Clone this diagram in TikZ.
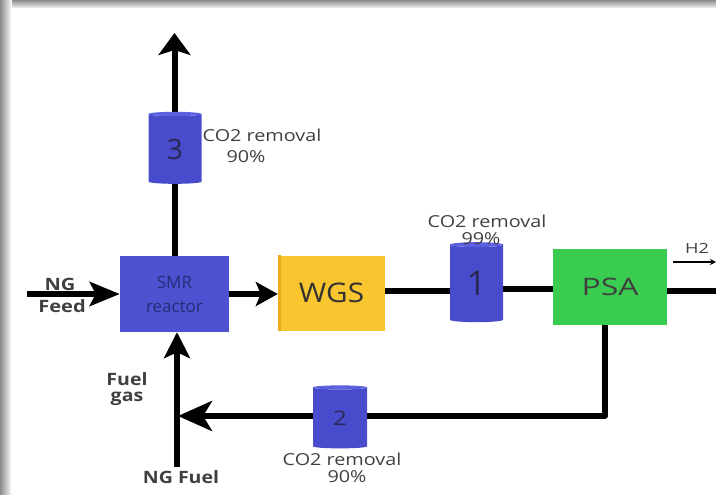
\documentclass[tikz,border=0pt]{standalone}
\usepackage{fontspec}
\usepackage{graphicx}
\setmainfont{Open Sans}
\usetikzlibrary{shapes.geometric,arrows.meta}
\pgfdeclarelayer{background}
\pgfdeclarelayer{paper}
\pgfsetlayers{paper,background,main}
\definecolor{smrblue}{RGB}{76,82,208}
\definecolor{cylblue}{RGB}{72,76,204}
\definecolor{cyltop}{RGB}{92,96,222}
\definecolor{wgsyellow}{RGB}{250,198,48}
\definecolor{wgsedge}{RGB}{236,172,24}
\definecolor{psagreen}{RGB}{58,204,80}
\definecolor{txt}{RGB}{64,64,64}
\definecolor{smrtxt}{RGB}{40,44,120}
\definecolor{numtxt}{RGB}{40,40,80}
\newcommand\wideby[2]{\scalebox{#1}[1]{#2}}
\begin{document}
\begin{tikzpicture}[x=1pt,y=-1pt,
  pipe/.style={line width=6pt,black},
  bigarrow/.style={pipe,-{Stealth[length=22pt,width=32pt,inset=5pt]}},
  retarrow/.style={pipe,-{Stealth[length=34pt,width=30pt,inset=9pt]}},
  unit/.style={draw=none,inner sep=0pt,minimum width=#1},
  drum/.style={cylinder,shape border rotate=90,draw=none,inner sep=0pt,
    cylinder uses custom fill,cylinder body fill=cylblue,cylinder end fill=cyltop,
    minimum width=53pt,text=numtxt},
  lbl/.style={text=txt,inner sep=0pt,anchor=base,font=\fontsize{16.5}{18}\selectfont},
  blbl/.style={text=txt,inner sep=0pt,anchor=base,font=\fontsize{17}{19}\selectfont\bfseries}]
\useasboundingbox (0,0) rectangle (716,495);
\begin{pgfonlayer}{paper}
\fill[white] (0,0) rectangle (716,495);
\shade[top color=black!45,bottom color=white] (0,0) rectangle (716,9);
\shade[left color=black!45,right color=white] (0,0) rectangle (12,495);
\fill[white] (11,8) rectangle (716,495);
\end{pgfonlayer}

% units
\node[unit=109pt,minimum height=76pt,fill=smrblue,text=smrtxt,align=center,
  font=\fontsize{17}{24}\selectfont] (smr) at (174.5,294) {SMR\\reactor};
\node[unit=107pt,minimum height=75pt,fill=wgsyellow,text=black!80,
  font=\fontsize{27}{30}\selectfont] (wgs) at (331.5,293) {\wideby{1.1}{WGS}};
\fill[wgsedge] (wgs.north west) rectangle ([xshift=3pt]wgs.south west);
\node[unit=114pt,minimum height=76pt,fill=psagreen,text=black!75,
  font=\fontsize{24}{28}\selectfont] (psa) at (610,287) {\wideby{1.33}{PSA}};

\node[drum,minimum height=72pt,aspect=0.27,font=\fontsize{28}{30}\selectfont] (cyl3) at (175,149) {3};
\node[drum,minimum height=80pt,aspect=0.25,font=\fontsize{34}{36}\selectfont] (cyl1) at (476.5,283.5) {1};
\node[drum,minimum height=63pt,aspect=0.3,minimum width=54pt,font=\fontsize{20}{22}\selectfont] (cyl2) at (340,418) {\wideby{1.2}{2}};

% free ends
\coordinate (stack) at (174.5,33);
\coordinate (feedin) at (27,294);
\coordinate (fuelin) at (177,467);
\coordinate (corner) at (605,416);
\coordinate (out) at (716,291);
\coordinate (h2a) at (673,262);
\coordinate (h2b) at (716,262);

\begin{pgfonlayer}{background}
\draw[bigarrow] (smr.north) -- (stack);
\draw[bigarrow,-{Stealth[length=30pt,width=24pt,inset=6pt]}] (feedin) -- (smr.west |- feedin);
\draw[bigarrow,-{Stealth[length=22pt,width=24pt,inset=5pt]}] (smr.east) -- (wgs.west |- smr.east);
\draw[pipe] (wgs.east |- 0,291) -- (cyl1.center |- 0,291);
\draw[pipe] (cyl1.center |- 0,289) -- (psa.west |- 0,289);
\draw[pipe] (psa.east |- out) -- (out);
\draw[retarrow,line join=round,shorten >=1pt] (psa.south -| corner) -- (corner) -- (fuelin |- corner);
\draw[bigarrow,-{Stealth[length=26pt,width=26pt,inset=6pt]}] (fuelin) -- (smr.south -| fuelin);
\end{pgfonlayer}
\draw[line width=1.6pt,-{Stealth[length=6pt,width=6pt]}] (h2a) -- (h2b);

% labels
\node[lbl,font=\fontsize{14}{16}\selectfont] (h2) at (697,253) {\wideby{1.3}{H2}};
\node[lbl] (c3a) at (262,142) {\wideby{1.2}{CO2 removal}};
\node[lbl] (c3b) at (246,162) {\wideby{1.2}{90\%}};
\node[lbl] (c1a) at (487,227) {\wideby{1.2}{CO2 removal}};
\node[lbl] (c1b) at (481,244) {\wideby{1.2}{99\%}};
\node[lbl] (c2a) at (342,465) {\wideby{1.2}{CO2 removal}};
\node[lbl] (c2b) at (347,482) {\wideby{1.2}{90\%}};
\node[blbl] (ng) at (60,290) {\wideby{1.18}{NG}};
\node[blbl] (feed) at (62,312) {\wideby{1.18}{Feed}};
\node[blbl] (fuel) at (127,385) {\wideby{1.15}{Fuel}};
\node[blbl] (gas) at (127,401) {\wideby{1.15}{gas}};
\node[blbl] (ngfuel) at (181,483) {\wideby{1.15}{NG Fuel}};
\end{tikzpicture}
\end{document}
